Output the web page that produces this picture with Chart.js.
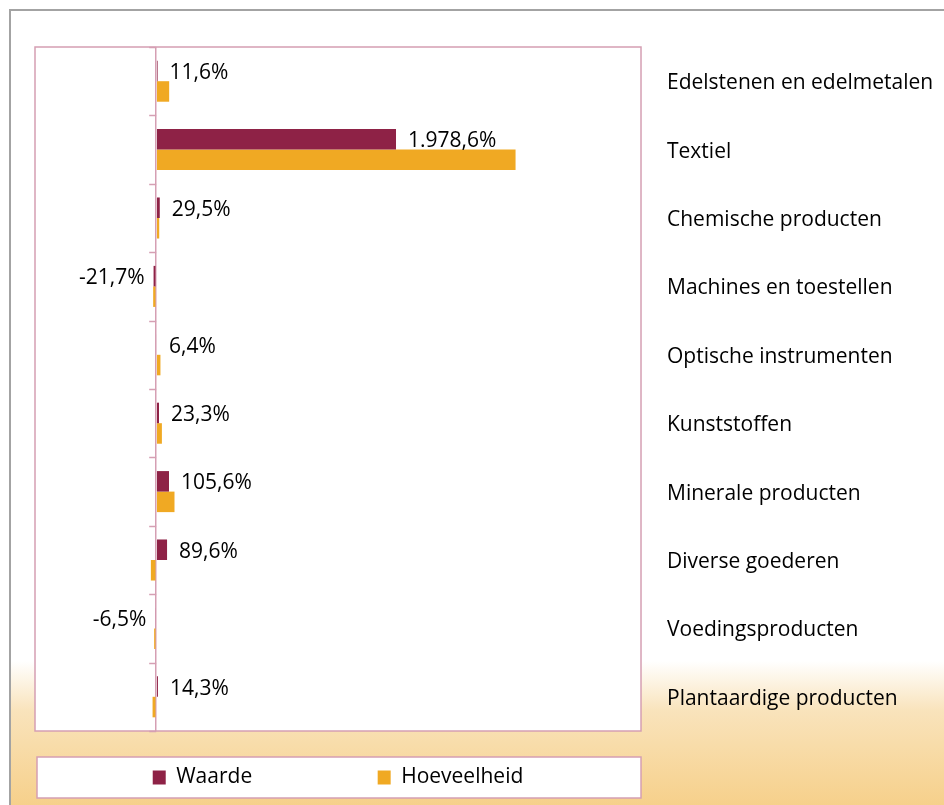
<!DOCTYPE html>
<html>
<head>
<meta charset="utf-8">
<script src="https://cdn.jsdelivr.net/npm/chart.js@4.4.1/dist/chart.umd.min.js"></script>
<style>
  html, body { margin: 0; padding: 0; background: #fff; }
  #wrap { position: relative; width: 944px; height: 805px; overflow: hidden; }
  #frame {
    position: absolute; left: 9px; top: 9px; width: 960px; height: 820px;
    border-top: 2px solid #a3a3a3; border-left: 2px solid #a3a3a3;
    background: linear-gradient(to bottom, #ffffff 0px, #ffffff 650px, #f9e3bb 700px, #f6cf88 800px);
  }
  #myChart { position: absolute; left: 0; top: 0; }
</style>
</head>
<body>
<div id="wrap">
  <div id="frame"></div>
  <canvas id="myChart" width="944" height="805"></canvas>
</div>
<script>
var categories = ["Edelstenen en edelmetalen", "Textiel", "Chemische producten", "Machines en toestellen",
  "Optische instrumenten", "Kunststoffen", "Minerale producten", "Diverse goederen",
  "Voedingsproducten", "Plantaardige producten"];
var waarde = [11.6, 1978.6, 29.5, -21.7, 6.4, 23.3, 105.6, 89.6, -6.5, 14.3];
var hoeveelheid = [107, 2965, 25, -25, 35, 47, 151, -44, -17, -30];

var pink = '#d59fb3';
var fontName = '"Open Sans"';
var fontSize = 21;

function fmt(v) {
  var parts = Math.abs(v).toFixed(1).split('.');
  var i = parts[0].replace(/\B(?=(\d{3})+(?!\d))/g, '.');
  return (v < 0 ? '-' : '') + i + ',' + parts[1] + '%';
}

// white plot box and legend box with pink border
var boxes = {
  id: 'boxes',
  beforeDraw: function(chart) {
    var c = chart.ctx, a = chart.chartArea, lg = chart.legend;
    c.save();
    c.fillStyle = '#fff';
    c.strokeStyle = pink;
    c.lineWidth = 1.5;
    c.fillRect(a.left, a.top, a.right - a.left, a.bottom - a.top);
    c.strokeRect(a.left, a.top, a.right - a.left, a.bottom - a.top);
    c.fillRect(lg.left + 2, lg.top, lg.right - lg.left - 2, lg.bottom - lg.top);
    c.strokeRect(lg.left + 2, lg.top, lg.right - lg.left - 2, lg.bottom - lg.top);
    c.restore();
  },
  afterDatasetsDraw: function(chart) {
    var c = chart.ctx, x = chart.scales.x, y = chart.scales.y;
    var x0 = x.getPixelForValue(0);
    c.save();
    c.strokeStyle = pink;
    c.lineWidth = 1.5;
    for (var i = 0; i <= categories.length; i++) {
      var py = Math.round(y.getPixelForValue(i - 0.5)) + 0.5;
      c.beginPath();
      c.moveTo(x0 - 7, py);
      c.lineTo(x0, py);
      c.stroke();
    }
    // value labels for Waarde
    c.fillStyle = '#000';
    c.font = fontSize + 'px ' + fontName;
    c.textBaseline = 'middle';
    chart.getDatasetMeta(0).data.forEach(function(el, i) {
      var v = waarde[i];
      if (v >= 0) {
        c.textAlign = 'left';
        c.fillText(fmt(v), el.x + 12, el.y + 2);
      } else {
        c.textAlign = 'right';
        c.fillText(fmt(v), el.x - 9, el.y + 2);
      }
    });
    c.restore();
  }
};

var myChart = new Chart(document.getElementById('myChart'), {
  type: 'bar',
  data: {
    labels: categories,
    datasets: [
      {
        label: 'Waarde',
        data: waarde,
        backgroundColor: '#8e2246',
        categoryPercentage: 0.6,
        barPercentage: 1.0
      },
      {
        label: 'Hoeveelheid',
        data: hoeveelheid,
        backgroundColor: '#f0a923',
        categoryPercentage: 0.6,
        barPercentage: 1.0
      }
    ]
  },
  options: {
    responsive: false,
    animation: false,
    indexAxis: 'y',
    layout: {
      padding: { left: 35, top: 47, right: 0, bottom: 7 }
    },
    plugins: {
      tooltip: { enabled: false },
      legend: {
        position: 'bottom',
        fullSize: false,
        labels: {
          color: '#000',
          boxWidth: 13,
          boxHeight: 14,
          padding: 10,
          font: { family: fontName, size: fontSize },
          generateLabels: function(chart) {
            var items = Chart.defaults.plugins.legend.labels.generateLabels(chart);
            items[0].text = items[0].text + '\u2002'.repeat(11);
            items.forEach(function(it) { it.lineWidth = 0; });
            return items;
          }
        }
      }
    },
    scales: {
      x: {
        min: -1000,
        max: 4000,
        ticks: { display: false, stepSize: 1000 },
        border: { display: false },
        grid: {
          drawTicks: false,
          lineWidth: 1.5,
          color: function(ctx) { return ctx.tick && ctx.tick.value === 0 ? pink : 'rgba(0,0,0,0)'; }
        },
        afterFit: function(scale) { scale.height = 26; }
      },
      y: {
        position: 'right',
        border: { display: false },
        grid: { display: false, drawTicks: false },
        ticks: {
          color: '#000',
          padding: 26,
          labelOffset: 2,
          font: { family: fontName, size: fontSize }
        },
        afterFit: function(scale) { scale.width = 303; }
      }
    }
  },
  plugins: [boxes]
});
</script>
</body>
</html>
